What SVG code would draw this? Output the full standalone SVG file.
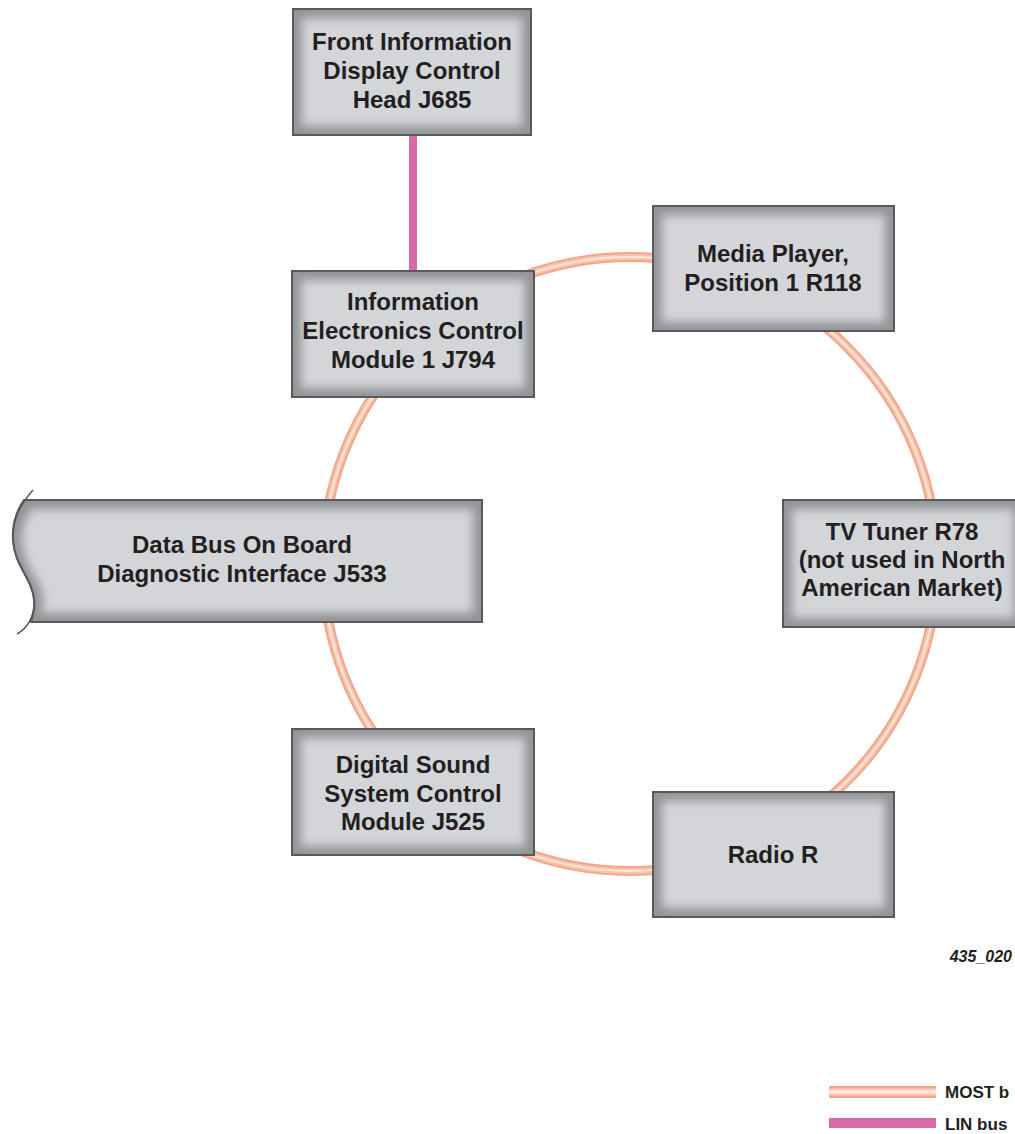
<svg xmlns="http://www.w3.org/2000/svg" width="1015" height="1134" viewBox="0 0 1015 1134">
<style>
.frame{fill:#929497;stroke:#56585a;stroke-width:2}
.inner{fill:#d3d5d8;filter:url(#soft)}
.lbl{font-family:"Liberation Sans",Arial,sans-serif;font-weight:bold;font-size:24px;fill:#231f20;text-anchor:middle}
.most-o{fill:none;stroke:#f4a587;stroke-width:10}
.most-m{fill:none;stroke:#f8c3ad;stroke-width:6}
.most-i{fill:none;stroke:#fde6da;stroke-width:2}
.lin{stroke:#d96aa8;stroke-width:8}
.leg{font-family:"Liberation Sans",Arial,sans-serif;font-weight:bold;font-size:17px;fill:#231f20}
</style>
<defs>
<filter id="soft" x="-10%" y="-10%" width="120%" height="120%"><feGaussianBlur stdDeviation="5"/></filter>
</defs>
<g id="connectors">
<circle class="most-o" cx="630" cy="564" r="307"/>
<circle class="most-m" cx="630" cy="564" r="307"/>
<circle class="most-i" cx="630" cy="564" r="307"/>
<line class="lin" x1="413" y1="135" x2="413" y2="272"/>
</g>
<g id="node-front">
<rect class="frame" x="293" y="9" width="238" height="126"/>
<rect class="inner" x="302" y="18" width="220" height="108"/>
<text class="lbl" x="412" y="50">Front Information</text>
<text class="lbl" x="412" y="79">Display Control</text>
<text class="lbl" x="412" y="108">Head J685</text>
</g>
<g id="node-iecm">
<rect class="frame" x="292" y="271" width="242" height="126"/>
<rect class="inner" x="301" y="280" width="224" height="108"/>
<text class="lbl" x="413" y="310">Information</text>
<text class="lbl" x="413" y="339">Electronics Control</text>
<text class="lbl" x="413" y="368">Module 1 J794</text>
</g>
<g id="node-media">
<rect class="frame" x="653" y="206" width="241" height="125"/>
<rect class="inner" x="662" y="215" width="223" height="107"/>
<text class="lbl" x="773" y="262">Media Player,</text>
<text class="lbl" x="773" y="291">Position 1 R118</text>
</g>
<g id="node-gateway">
<path class="frame" stroke="none" d="M24 500 L482 500 L482 622 L31 622 C34 612 35 606 34 600 C33 580 14 565 13 540 C12 524 17 510 24 500 Z"/>
<path d="M24 500 L482 500 L482 622 L31 622" fill="none" stroke="#56585a" stroke-width="2"/>
<path class="inner" d="M33 509 L473 509 L473 613 L41 613 C43 606 43 602 43 598 C42 580 22 565 22 540 C22 526 26 516 33 509 Z"/>
<path d="M33 490 C20 505 12 520 13 540 C14 565 33 580 34 600 C35 615 28 628 17 634" fill="none" stroke="#56585a" stroke-width="1.5"/>
<text class="lbl" x="242" y="553">Data Bus On Board</text>
<text class="lbl" x="242" y="582">Diagnostic Interface J533</text>
</g>
<g id="node-tv">
<rect class="frame" x="783" y="500" width="240" height="127"/>
<rect class="inner" x="792" y="509" width="222" height="109"/>
<text class="lbl" x="902" y="540">TV Tuner R78</text>
<text class="lbl" x="902" y="568">(not used in North</text>
<text class="lbl" x="902" y="596">American Market)</text>
</g>
<g id="node-dsp">
<rect class="frame" x="292" y="729" width="242" height="126"/>
<rect class="inner" x="301" y="738" width="224" height="108"/>
<text class="lbl" x="413" y="773">Digital Sound</text>
<text class="lbl" x="413" y="802">System Control</text>
<text class="lbl" x="413" y="830">Module J525</text>
</g>
<g id="node-radio">
<rect class="frame" x="653" y="792" width="241" height="125"/>
<rect class="inner" x="662" y="801" width="223" height="107"/>
<text class="lbl" x="773" y="863">Radio R</text>
</g>
<text x="1012" y="962" font-family="Liberation Sans,Arial,sans-serif" font-weight="bold" font-style="italic" font-size="16" fill="#231f20" text-anchor="end">435_020</text>
<g id="legend">
<line x1="829" y1="1092" x2="936" y2="1092" stroke="#f4a587" stroke-width="12"/>
<line x1="829" y1="1092" x2="936" y2="1092" stroke="#f9cbb8" stroke-width="7"/>
<line x1="829" y1="1092" x2="936" y2="1092" stroke="#fde8de" stroke-width="3"/>
<text class="leg" x="945" y="1098">MOST b</text>
<line x1="829" y1="1123" x2="936" y2="1123" stroke="#d96aa8" stroke-width="10"/>
<text class="leg" x="945" y="1130">LIN bus</text>
</g>
</svg>
